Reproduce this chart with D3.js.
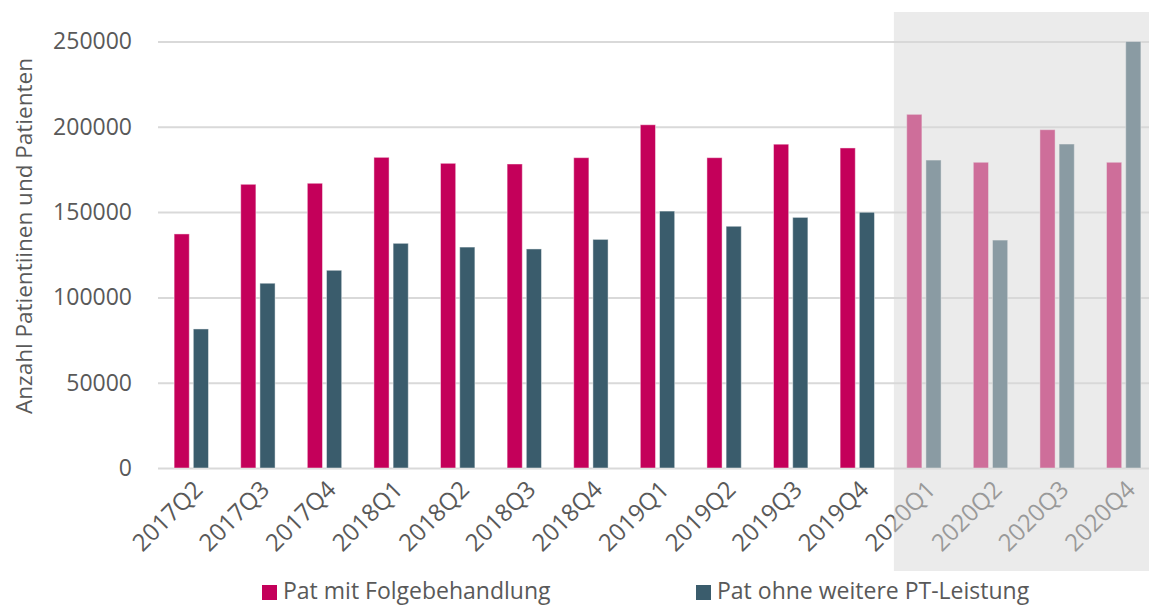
<!doctype html>
<html>
<head>
<meta charset="utf-8" />
<script src="https://d3js.org/d3.v7.min.js"></script>
<style>
  body{ margin:0; background:#fff; }
  text{ font-family:"Open Sans", sans-serif; fill:#595959; }
</style>
</head>
<body>
</body>
<script>
var quarters = ["2017Q2","2017Q3","2017Q4","2018Q1","2018Q2","2018Q3","2018Q4",
                "2019Q1","2019Q2","2019Q3","2019Q4","2020Q1","2020Q2","2020Q3","2020Q4"];
var seriesNames = ["Pat mit Folgebehandlung","Pat ohne weitere PT-Leistung"];
var folge = [137200,166300,166900,182100,178600,178200,181900,201200,181900,189800,187600,207300,179200,198300,179200];
var ohne  = [81500,108300,115900,131700,129500,128400,134000,150600,141700,146900,149900,180500,133600,189900,250000];
var yTicks = [0,50000,100000,150000,200000,250000];
var shadedFrom = "2020Q1";

function chart(){
  var svg = d3.select("body").append("svg").attr("width", 1149).attr("height", 606);

  var x0 = d3.scaleBand().domain(quarters).range([158, 1157]);
  var x1 = d3.scaleBand().domain(seriesNames).range([0, x0.bandwidth()])
      .paddingInner(0.21).paddingOuter(0.84);
  var y = d3.scaleLinear().domain([0,250000]).range([468, 41.5]);
  var color = d3.scaleOrdinal().domain(seriesNames).range(["#c4005a","#3a5c6c"]);

  // grid + y labels
  var yAxis = d3.axisLeft(y).tickValues(yTicks).tickSize(-1000).tickPadding(26)
      .tickFormat(d3.format("d"));
  var gy = svg.append("g").attr("transform","translate(158,0)").call(yAxis);
  gy.select(".domain").remove();
  gy.selectAll("line").attr("stroke","#d9d9d9").attr("stroke-width",2);
  gy.selectAll("text").attr("font-size",23).style("fill","#595959");

  // bars
  var table = quarters.map((q,i) => ({q:q, vals:[folge[i], ohne[i]]}));
  svg.selectAll("g.grp").data(table).enter().append("g")
    .attr("class","grp")
    .attr("transform", d => `translate(${x0(d.q)},0)`)
    .selectAll("rect")
    .data(d => d.vals.map((v,k) => ({key:seriesNames[k], v:v})))
    .enter().append("rect")
    .attr("x", d => x1(d.key))
    .attr("width", x1.bandwidth())
    .attr("y", d => y(d.v))
    .attr("height", d => y(0) - y(d.v))
    .attr("fill", d => color(d.key))
    .attr("stroke","#fff").attr("stroke-opacity",0.45).attr("stroke-width",1);

  // x labels
  var xAxis = d3.axisBottom(x0).tickSize(0).tickPadding(0);
  var gx = svg.append("g").attr("transform","translate(0,468)").call(xAxis);
  gx.select(".domain").remove();
  gx.selectAll("text")
    .attr("font-size",24)
    .style("fill","#595959")
    .attr("text-anchor","end")
    .attr("dy",0)
    .attr("transform","translate(13,23) rotate(-45)");

  // y title
  svg.append("text")
    .attr("transform","translate(32,236) rotate(-90)")
    .attr("text-anchor","middle")
    .attr("font-size",22.5)
    .text("Anzahl Patientiinen und Patienten");

  // legend
  var lx = [262, 696];
  var leg = svg.selectAll("g.leg").data(seriesNames).enter().append("g")
    .attr("class","leg")
    .attr("transform",(d,i) => `translate(${lx[i]},585)`);
  leg.append("rect").attr("width",15).attr("height",15).attr("fill", d => color(d));
  leg.append("text").attr("x",21).attr("y",14).attr("font-size",23).text(d => d);

  // forecast overlay on top
  svg.append("rect")
    .attr("x", x0(shadedFrom) + x0.bandwidth()/2 - 30)
    .attr("y", 12)
    .attr("width", 1149)
    .attr("height", 559)
    .attr("fill","#d8d8d8")
    .attr("fill-opacity",0.51);
}

chart();
</script>
</html>
